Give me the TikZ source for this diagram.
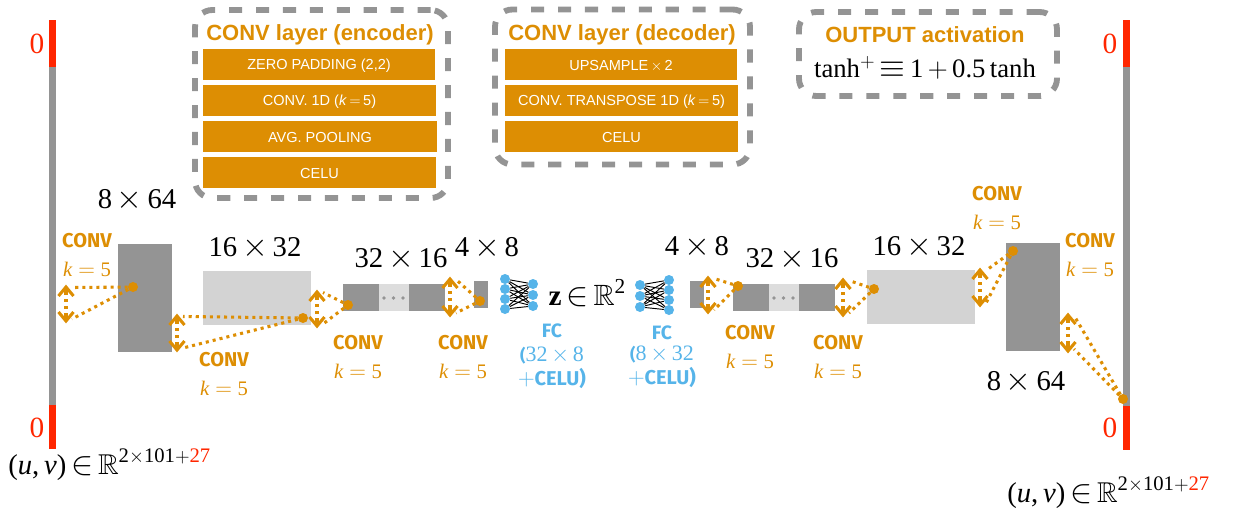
\documentclass[tikz,border=0pt]{standalone}
\usepackage{amssymb}
\usepackage{fontspec}
\setmainfont{Liberation Serif}
\newfontfamily\helv{Liberation Sans}
\newfontfamily\din{Fira Sans}
\usetikzlibrary{calc}
\definecolor{orng}{HTML}{DD8E03}
\definecolor{gry}{HTML}{949494}
\definecolor{lgry}{HTML}{D3D3D3}
\definecolor{llgry}{HTML}{DDDDDD}
\definecolor{redd}{HTML}{FF2600}
\definecolor{blu}{HTML}{56B4E9}
\newcommand{\blk}[6]{\node[draw=none,fill=#6,inner sep=0pt,outer sep=0pt,minimum width={(#4-#2)*0.75pt},minimum height={(#5-#3)*0.75pt}] (#1) at ({(#2+#4)/2},{(#3+#5)/2}) {};}
\newcommand{\dimtxt}[2]{#1\,{\fontsize{25}{25}\selectfont$\times$}\,#2}
\newcommand{\kfive}{\textit{k}\;{\fontsize{18}{18}\selectfont$=$}\;5}
\newcommand{\uvlabel}{(\textit{u},\,\textit{v})\,{\fontsize{27}{27}\selectfont$\in$}\,$\mathbb{R}$\raisebox{9pt}{\fontsize{15.5}{16}\selectfont 2$\times$101$+$\textcolor{redd}{27}}}
\newcommand{\fcparen}{{\din\bfseries\fontsize{12.5}{13}\selectfont(}}
\tikzset{
  dimlabel/.style={font=\fontsize{21.5}{24}\selectfont,inner sep=0pt},
  dashbox/.style={draw=gry,line width=4.4pt,rounded corners=13pt,dash pattern=on 9.8pt off 10.4pt,inner sep=0pt},
  title/.style={font=\helv\bfseries\fontsize{16.5}{18}\selectfont,text=orng,inner sep=0pt,yshift=-1pt},
  layertxt/.style={font=\helv\fontsize{10.9}{12}\selectfont,text=white,inner sep=0pt,yshift=-1pt},
  convword/.style={font=\din\bfseries\fontsize{15}{15}\selectfont,text=orng,inner sep=0pt},
  convk/.style={font=\fontsize{15.5}{18}\selectfont,text=orng,inner sep=0pt},
  zero/.style={font=\fontsize{22}{24}\selectfont,text=redd,inner sep=0pt},
  fcword/.style={font=\din\bfseries\fontsize{14.5}{15}\selectfont,text=blu,inner sep=0pt,text height=8pt,text depth=0pt},
  fcdim/.style={font=\fontsize{16.5}{18}\selectfont,text=blu,inner sep=0pt,text height=9pt,text depth=1pt},
  dotn/.style={circle,fill=orng,draw=none,inner sep=0pt,minimum size=7.5pt},
  pip/.style={circle,fill=gry,draw=none,inner sep=0pt,minimum size=2.8pt},
  neuron/.style={circle,fill=blu,draw=none,inner sep=0pt,minimum size=7.5pt},
  dotline/.style={draw=orng,line width=2.3pt,dash pattern=on 2.3pt off 3pt},
  barb/.style={draw=orng,line width=2.3pt,miter limit=10},
  synapse/.style={draw=black,line width=0.7pt},
}
\newcommand{\link}[3]{%
  \draw[dotline] (#1) -- ($(#2)+(6,2.5)$);
  \draw[dotline] (#1) -- ($(#3)+(6,-4)$);
  \draw[dotline] ($(#2)+(0,7)$) -- ($(#3)+(0,-7)$);
  \draw[barb] ($(#2)+(-7.5,11)$) -- ($(#2)+(0,2)$) -- ($(#2)+(7.5,11)$);
  \draw[barb] ($(#2)+(0,2)$) -- ($(#2)+(0,9)$);
  \draw[barb] ($(#3)+(-7.5,-11)$) -- ($(#3)+(0,-2)$) -- ($(#3)+(7.5,-11)$);
  \draw[barb] ($(#3)+(0,-2)$) -- ($(#3)+(0,-9)$);
}
\begin{document}
\begin{tikzpicture}[x=0.75pt,y=-0.75pt]
\useasboundingbox (0,0) rectangle (1233,514);
% side bars
\blk{lbar}{49}{20}{56}{449}{gry}
\blk{ltop}{49}{20}{56}{67}{redd}
\blk{lbot}{49}{405}{56}{449}{redd}
\blk{rbar}{1123}{20}{1130}{450}{gry}
\blk{rtop}{1123}{20}{1130}{67}{redd}
\blk{rbot}{1123}{406}{1130}{450}{redd}
\node[zero] (z1) at (37,44) {0};
\node[zero] (z2) at (37,428) {0};
\node[zero] (z3) at (1110,44) {0};
\node[zero] (z4) at (1110,428) {0};
% blocks
\blk{b1}{118}{244}{172}{352}{gry}
\blk{b2}{203}{271}{311}{325}{lgry}
\blk{b3m}{379}{284}{409}{311}{llgry}
\blk{b3a}{343}{284}{379}{311}{gry}
\blk{b3b}{409}{284}{445}{311}{gry}
\blk{b4}{474}{281}{488}{308}{gry}
\blk{b5}{690}{281}{704}{308}{gry}
\blk{b6m}{769}{284}{799}{311}{llgry}
\blk{b6a}{733}{284}{769}{311}{gry}
\blk{b6b}{799}{284}{835}{311}{gry}
\blk{b7}{867}{270}{975}{324}{lgry}
\blk{b8}{1006}{243}{1060}{351}{gry}
\foreach \x in {384,393.5,403}{\node[pip] at (\x,298) {};}
\foreach \x in {774,783.5,793}{\node[pip] at (\x,298) {};}
% legend boxes
\node[dashbox,minimum width={253*0.75pt},minimum height={188*0.75pt}] (enc) at (321.5,104) {};
\node[dashbox,minimum width={255*0.75pt},minimum height={155*0.75pt}] (dec) at (622.5,87) {};
\node[dashbox,minimum width={258*0.75pt},minimum height={84*0.75pt}] (out) at (928,54) {};
\node[title] (enct) at (320,33) {CONV layer (encoder)};
\node[title] (dect) at (622,33) {CONV layer (decoder)};
\node[title] (outt) at (925,33) {OUTPUT activation};
\node[font=\fontsize{20}{22}\selectfont,inner sep=0pt] (outf) at (925,68) {tanh$^{+}$\,{\fontsize{24}{24}\selectfont$\equiv$}\,1\,$+$\,0.5\,tanh};
\blk{e1}{203}{49}{435}{80}{orng}
\blk{e2}{203}{85}{436}{116}{orng}
\blk{e3}{203}{121}{437}{152}{orng}
\blk{e4}{203}{157}{436}{188}{orng}
\node[layertxt] at (e1) {ZERO PADDING (2,2)};
\node[layertxt] at (e2) {CONV. 1D (\textit{k}\,$=$\,5)};
\node[layertxt] at (e3) {AVG. POOLING};
\node[layertxt] at (e4) {CELU};
\blk{d1}{505}{49}{737}{80}{orng}
\blk{d2}{505}{85}{738}{116}{orng}
\blk{d3}{505}{121}{738}{152}{orng}
\node[layertxt] at (d1) {UPSAMPLE\,$\times$\,2};
\node[layertxt] at (d2) {CONV. TRANSPOSE 1D (\textit{k}\,$=$\,5)};
\node[layertxt] at (d3) {CELU};
% dimension labels
\node[dimlabel] (l1) at (137,200) {\dimtxt{8}{64}};
\node[dimlabel] (l2) at (255,248) {\dimtxt{16}{32}};
\node[dimlabel] (l3) at (401,259) {\dimtxt{32}{16}};
\node[dimlabel] (l4) at (487,248) {\dimtxt{4}{8}};
\node[dimlabel] (l5) at (697,247) {\dimtxt{4}{8}};
\node[dimlabel] (l6) at (792,259) {\dimtxt{32}{16}};
\node[dimlabel] (l7) at (919,247) {\dimtxt{16}{32}};
\node[dimlabel] (l8) at (1026,382) {\dimtxt{8}{64}};
\node[dimlabel,font=\fontsize{22}{24}\selectfont] (zl) at (587,293) {$\mathbf{z}$\,{\fontsize{27}{27}\selectfont$\in$}\,$\mathbb{R}$\raisebox{9pt}{\fontsize{16}{16}\selectfont 2}};
\node[dimlabel,anchor=west] (in) at (8,465) {\uvlabel};
\node[dimlabel,anchor=west] (outl) at (1007,493) {\uvlabel};
% CONV labels
\foreach \n/\x/\ya/\yb in {c1/87/241/269,c2/224/360/388,c3/358/343/371,c4/463/343/371,c5/750/333/361,c6/838/343/371,c7/997/194/222,c8/1090/241/269}{
  \node[convword] (\n w) at (\x,\ya) {CONV};
  \node[convk] (\n k) at (\x,\yb) {\kfive};
}
% dots and arrow ends
\node[dotn] (p1) at (133,287) {};
\coordinate (t1) at (66,285); \coordinate (u1) at (66,323);
\node[dotn] (p2) at (303,318) {};
\coordinate (t2) at (177,314); \coordinate (u2) at (177,352);
\node[dotn] (p3) at (348,305) {};
\coordinate (t3) at (317,290); \coordinate (u3) at (317,328);
\node[dotn] (p4) at (480,301) {};
\coordinate (t4) at (450,277); \coordinate (u4) at (450,317);
\node[dotn] (p5) at (738,286) {};
\coordinate (t5) at (708,276); \coordinate (u5) at (708,314);
\node[dotn] (p6) at (874,289) {};
\coordinate (t6) at (843,278); \coordinate (u6) at (843,317);
\node[dotn] (p7) at (1013,251) {};
\coordinate (t7) at (980,268); \coordinate (u7) at (980,307);
\node[dotn] (p8) at (1123,399) {};
\coordinate (t8) at (1068,313); \coordinate (u8) at (1068,353);
\foreach \i in {1,...,8}{\link{p\i}{t\i}{u\i}}
% fully connected nets
\foreach \i/\y in {1/279,2/289,3/299,4/309}{\node[neuron] (ea\i) at (505,\y) {};}
\foreach \i/\y in {1/284,2/295,3/306}{\node[neuron] (eb\i) at (533,\y) {};}
\foreach \i/\y in {1/285,2/296,3/307}{\node[neuron] (da\i) at (640,\y) {};}
\foreach \i/\y in {1/280,2/290,3/300,4/310}{\node[neuron] (db\i) at (669,\y) {};}
\foreach \i in {1,2,3,4}{\foreach \j in {1,2,3}{
  \draw[synapse] (ea\i) -- (eb\j);
  \draw[synapse] (da\j) -- (db\i);
}}
% FC labels
\node[fcword] (f1) at (552,332) {FC};
\node[fcdim] (f1d) at (552,356) {\fcparen 32\,$\times$\,8};
\node[fcdim] (f1c) at (552,380) {$+${\din\bfseries\fontsize{15}{15}\selectfont CELU)}};
\node[fcword] (f2) at (662,334) {FC};
\node[fcdim] (f2d) at (662,355) {\fcparen 8\,$\times$\,32};
\node[fcdim] (f2c) at (662,379) {$+${\din\bfseries\fontsize{15}{15}\selectfont CELU)}};
\end{tikzpicture}
\end{document}
